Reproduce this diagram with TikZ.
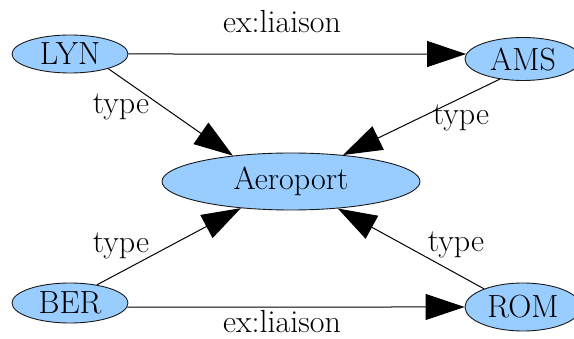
\documentclass[tikz,border=0pt]{standalone}
\usetikzlibrary{arrows.meta,shapes.geometric}
\definecolor{nodefill}{HTML}{99CCFF}
\definecolor{nodeline}{HTML}{1A1A1A}
\begin{document}
\begin{tikzpicture}[x=1pt,y=-1pt,
  res/.style={ellipse, draw=nodeline, line width=0.9pt, fill=nodefill,
    inner sep=0pt, font=\fontsize{32}{35}\selectfont},
  rel/.style={draw=black, line width=1pt,
    -{Triangle[length=39pt,width=26pt]}},
  lbl/.style={inner sep=0pt, font=\fontsize{32}{35}\selectfont}]
\useasboundingbox (0,0) rectangle (574,339);

% resources
\node[res, minimum width=116pt, minimum height=38pt] (lyn) at (70,54) {LYN};
\node[res, minimum width=116pt, minimum height=43pt] (ams) at (523,59) {AMS};
\node[res, minimum width=258pt, minimum height=57pt] (aero) at (291,181.5) {Aeroport};
\node[res, minimum width=116pt, minimum height=40pt] (ber) at (70,303) {BER};
\node[res, minimum width=116pt, minimum height=48pt] (rom) at (523,307) {ROM};

% properties
\draw[rel] (lyn.east) -- (ams.175);
\draw[rel] (ber.-4) -- (rom.180);
\draw[rel] (lyn.-21) -- (aero.156);
\draw[rel] (ams.221) -- (aero.27);
\draw[rel] (ber.34) -- (aero.208);
\draw[rel] (rom.155) -- (aero.330);

% property names
\node[lbl] (l1) at (282,22) {ex:liaison};
\node[lbl] (l2) at (282,322) {ex:liaison};
\node[lbl] (t1) at (121,107) {type};
\node[lbl] (t2) at (461,118) {type};
\node[lbl] (t3) at (121,246) {type};
\node[lbl] (t4) at (456,245) {type};
\end{tikzpicture}
\end{document}
